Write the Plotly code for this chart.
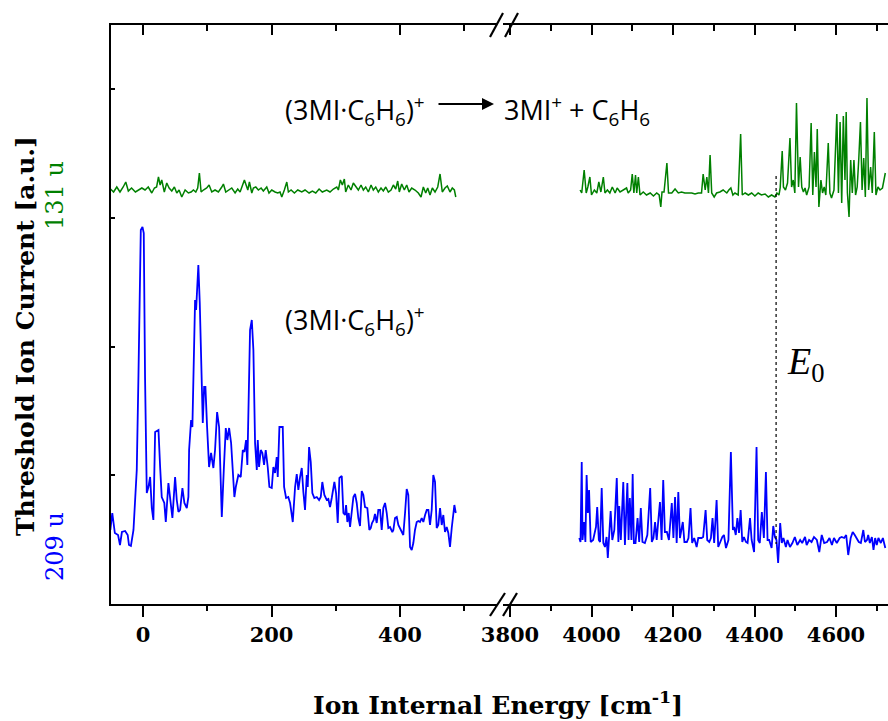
import plotly.graph_objects as go

# ---------------- data (Ion Internal Energy [cm^-1], Threshold ion current [a.u.]) ----------------
blue_left_E = [-51, -48, -44, -39, -36, -33, -28, -24, -22, -19, -15, -12.4, -9.9, -7.3, -3.6, -1, 1, 3, 5.7, 8.3,
               10.9, 13.5, 16, 18.7, 23.9, 26.5, 29, 33, 35.3, 39.4, 42, 45.6, 49.8, 52.4, 55, 57.6, 61.2, 64.3, 68, 70.5,
               71.6, 74.7, 76.7, 78.9, 80.9, 82.5, 84, 86, 88.2, 90.3, 92.9, 95, 97, 99.6, 102.7, 105.8, 109.4, 112, 115.2, 118.3,
               122.5, 125.6, 128.7, 131.2, 133.9, 137, 140, 142.1, 144.3, 148.3, 152, 155.2, 157.7, 160.3, 162.3, 163.9, 166.5, 169.2, 171.7, 174.3,
               177, 178.5, 180.5, 183.2, 185.7, 188.3, 190.9, 194, 196.6, 200.3, 202.8, 205.4, 208, 209.6, 212.2, 215.9, 217.4, 219.5, 222.6, 226,
               228.8, 233, 236.6, 239.2, 241.7, 244.4, 247, 249.5, 252.1, 254.8, 256.3, 258.4, 261, 263.5, 266.6, 270.4, 274, 276.6, 279, 282.2,
               285.9, 288.4, 291, 293.7, 297.8, 300.4, 303, 305.6, 309.3, 311.8, 314.4, 316, 318, 320.1, 322.2, 324.8, 327.4, 330, 332.6, 335.1,
               337.7, 340.4, 342.9, 345.5, 349.1, 352.2, 354.4, 356.4, 359, 361, 363.7, 366.2, 368.9, 371.5, 374, 376.7, 379.3, 381.8, 384.4, 388,
               389.6, 392.2, 394.9, 397.4, 400, 402.6, 405.1, 407.8, 410.4, 412.9, 415.6, 418.2, 420.7, 423.3, 426, 428.5, 431.1, 433.8, 436.3, 439,
               441.6, 444.1, 446.7, 449.3, 451.8, 454.5, 457.1, 459.6, 462.3, 464.9, 467.4, 470, 472.7, 475.2, 477.8, 480.5, 483, 484.6, 486.8]
blue_left_I = [74, 91, 71, 69, 59, 72, 73, 69, 59, 58, 74, 111, 134, 227, 374, 377, 371, 227, 111, 117,
               127, 96, 84, 172, 174, 137, 107, 101, 82, 121, 104, 86, 127, 104, 92, 94, 116, 101, 96, 107,
               154, 184, 177, 237, 304, 294, 311, 339, 301, 247, 181, 217, 217, 177, 137, 151, 136, 154, 192, 177,
               87, 134, 176, 164, 176, 161, 121, 107, 117, 129, 127, 154, 152, 164, 139, 207, 274, 284, 254, 161,
               134, 164, 137, 154, 151, 139, 154, 137, 117, 116, 137, 131, 147, 127, 177, 177, 177, 117, 106, 107,
               101, 82, 117, 130, 114, 127, 136, 112, 94, 129, 117, 157, 142, 111, 106, 107, 104, 107, 122, 109,
               104, 105, 97, 106, 122, 111, 81, 126, 128, 91, 89, 99, 82, 91, 77, 92, 107, 110, 101, 86,
               78, 113, 109, 97, 96, 74, 76, 81, 84, 90, 81, 94, 94, 74, 96, 101, 91, 76, 77, 72,
               74, 86, 87, 79, 76, 72, 69, 91, 115, 109, 57, 54, 61, 74, 82, 83, 82, 86, 82, 89,
               94, 94, 79, 94, 129, 122, 76, 79, 96, 79, 89, 72, 77, 71, 57, 76, 89, 99, 91]

blue_right_E = [3970, 3973, 3976, 3978, 3982, 3985, 3988, 3991, 3994, 3998, 4004, 4011, 4014, 4018, 4021, 4025, 4029, 4033, 4037, 4040,
                4043, 4047, 4051, 4056, 4062, 4066, 4068, 4072, 4078, 4082, 4088, 4091, 4094, 4098, 4101, 4104, 4108, 4113, 4117, 4121,
                4125, 4131, 4137, 4144, 4148, 4152, 4156, 4160, 4164, 4168, 4172, 4176, 4180, 4185, 4190, 4197, 4201, 4205, 4209, 4213,
                4217, 4224, 4228, 4234, 4238, 4243, 4247, 4252, 4258, 4262, 4270, 4274, 4280, 4284, 4289, 4293, 4297, 4301, 4307, 4311,
                4315, 4321, 4325, 4330, 4336, 4342, 4347, 4350, 4354, 4358, 4362, 4366, 4370, 4374, 4379, 4383, 4389, 4393, 4399, 4405,
                4409, 4413, 4418, 4423, 4428, 4432, 4436, 4442, 4446, 4450, 4454, 4458, 4463, 4467, 4471, 4477, 4481, 4487, 4493, 4499,
                4505, 4512, 4517, 4524, 4528, 4534, 4540, 4546, 4553, 4559, 4565, 4571, 4578, 4584, 4590, 4595, 4602, 4609, 4614, 4620,
                4625, 4630, 4636, 4641, 4646, 4651, 4656, 4661, 4667, 4671, 4676, 4679, 4683, 4688, 4692, 4696, 4700, 4704, 4710, 4715, 4721]
blue_right_I = [66, 62, 142, 64, 82, 62, 129, 91, 114, 62, 64, 77, 97, 64, 62, 116, 61, 57, 67, 46,
                66, 93, 64, 74, 126, 62, 98, 64, 122, 59, 121, 64, 106, 64, 130, 61, 61, 86, 62, 96,
                62, 61, 69, 116, 62, 66, 82, 64, 84, 102, 64, 124, 72, 72, 64, 101, 66, 107, 61, 112,
                66, 82, 62, 62, 66, 96, 61, 66, 57, 66, 66, 67, 94, 64, 62, 66, 86, 61, 104, 57,
                61, 67, 69, 56, 64, 152, 74, 77, 69, 86, 71, 94, 62, 67, 62, 61, 86, 64, 52, 157,
                64, 61, 92, 66, 132, 64, 64, 56, 78, 67, 64, 41, 81, 61, 66, 57, 64, 57, 61, 67,
                59, 64, 61, 67, 59, 64, 62, 67, 64, 52, 69, 61, 62, 66, 59, 66, 61, 66, 67, 66,
                69, 49, 66, 72, 69, 66, 62, 61, 74, 62, 64, 69, 61, 67, 54, 66, 59, 66, 61, 66, 56]

green_left_E = [-51, -46, -41, -36, -31, -27, -23, -18, -12, -7, -2, 3, 8, 13.5, 17.6, 21, 23.9, 26.5, 29, 33,
                36.8, 40.5, 44.6, 48.7, 52.4, 56, 60.2, 65.4, 70.5, 74.7, 78.3, 82, 85, 87.6, 90.3, 93.8, 99, 102.7, 106.9, 112,
                117.2, 122.5, 125, 128.7, 132.8, 138, 143.2, 147.3, 151, 154.6, 157.7, 159.8, 163, 165.5, 169.2, 171.7, 175.4, 179.5, 183.7, 187.2,
                192.5, 196, 200.3, 205.4, 209.6, 213.2, 215.9, 219.9, 223.7, 226.2, 230.4, 235.5, 240.8, 247, 252.1, 258.4, 263.5, 268.8, 274, 279,
                285.9, 291, 296.2, 301.5, 304, 307.1, 310.2, 313.3, 315.4, 319.5, 323.7, 327.3, 331, 335.1, 339.3, 342.9, 346.6, 350.7, 354.9, 358.4,
                362.2, 366.2, 370.4, 374, 377.8, 381.8, 386, 389.6, 393.3, 396.4, 398.9, 402.6, 406.7, 410.4, 414, 418.2, 423.3, 428.5, 432.7, 436.3,
                440, 443.1, 446.7, 450.3, 454.5, 458.7, 462.3, 465.8, 470, 473.6, 477.8, 481.4, 484.6, 486.8]
green_left_I = [415, 412, 417, 412, 417, 422, 413, 416, 412, 414, 416, 414, 417, 411, 416, 417, 427, 419, 424, 412,
                421, 416, 413, 417, 411, 414, 407, 414, 411, 412, 414, 412, 416, 431, 412, 414, 416, 419, 412, 414,
                412, 417, 420, 412, 414, 416, 411, 415, 412, 419, 424, 420, 414, 422, 411, 416, 417, 414, 416, 413,
                417, 411, 414, 412, 411, 412, 407, 414, 422, 412, 414, 411, 414, 412, 414, 411, 413, 411, 415, 412,
                414, 412, 415, 417, 414, 424, 419, 425, 412, 419, 414, 421, 417, 414, 419, 414, 417, 412, 419, 414,
                417, 412, 416, 413, 417, 412, 414, 419, 415, 423, 412, 420, 414, 419, 412, 416, 414, 411, 407, 417,
                411, 416, 409, 416, 412, 417, 430, 412, 416, 418, 412, 416, 414, 407]

green_right_E = [3972, 3976, 3982, 3987, 3991, 3996, 4000, 4007, 4013, 4018, 4023, 4029, 4033, 4039, 4045, 4051, 4058, 4063, 4070, 4078,
                 4086, 4090, 4096, 4100, 4104, 4108, 4111, 4115, 4119, 4127, 4135, 4144, 4152, 4160, 4166, 4170, 4173, 4178, 4185, 4189,
                 4197, 4205, 4213, 4221, 4229, 4238, 4246, 4254, 4262, 4270, 4274, 4279, 4283, 4287, 4291, 4295, 4301, 4307, 4315, 4323,
                 4332, 4337, 4342, 4347, 4352, 4360, 4366, 4370, 4377, 4385, 4393, 4401, 4409, 4417, 4426, 4434, 4442, 4450, 4455, 4460,
                 4463, 4468, 4471, 4476, 4481, 4487, 4491, 4495, 4499, 4503, 4508, 4512, 4516, 4520, 4524, 4528, 4534, 4539, 4543, 4547,
                 4551, 4554, 4558, 4563, 4567, 4571, 4575, 4581, 4585, 4589, 4595, 4602, 4606, 4610, 4614, 4618, 4622, 4625, 4628, 4632,
                 4636, 4640, 4644, 4648, 4652, 4656, 4660, 4664, 4668, 4672, 4676, 4680, 4685, 4689, 4694, 4698, 4703, 4708, 4714, 4721]
green_right_I = [414, 411, 434, 411, 417, 427, 409, 414, 411, 422, 412, 427, 411, 414, 411, 417, 411, 416, 412, 414,
                 416, 411, 414, 430, 411, 429, 411, 427, 409, 412, 409, 411, 408, 411, 409, 397, 412, 412, 441, 411,
                 411, 415, 411, 412, 411, 411, 411, 410, 411, 411, 430, 414, 427, 411, 449, 411, 407, 411, 412, 414,
                 411, 414, 416, 409, 411, 409, 470, 409, 411, 409, 411, 408, 411, 409, 410, 407, 409, 407, 411, 409,
                 416, 453, 417, 414, 421, 466, 417, 424, 411, 501, 417, 447, 417, 412, 416, 409, 417, 481, 409, 452,
                 417, 475, 397, 424, 411, 417, 409, 461, 411, 406, 414, 490, 411, 482, 401, 488, 424, 492, 411, 387,
                 444, 411, 444, 409, 417, 446, 482, 414, 446, 407, 506, 414, 437, 411, 472, 409, 417, 414, 416, 431]

E0 = 4453                       # dissociation threshold
E0_span = [428, 60]             # vertical extent of the E0 marker line
x_left_range = [-50, 551]
x_right_range = [3782.8, 4727.6]
y_range = [0, 579]
y_ticks = [129, 257, 386, 515]

BLUE = "#0000ff"
GREEN = "#008000"
SERIF = "DejaVu Serif"
SANS = "Open Sans"

fig = go.Figure()
fig.add_trace(go.Scatter(x=blue_left_E, y=blue_left_I, mode="lines", line=dict(color=BLUE, width=1.8),
                         xaxis="x", yaxis="y", showlegend=False))
fig.add_trace(go.Scatter(x=green_left_E, y=green_left_I, mode="lines", line=dict(color=GREEN, width=1.5),
                         xaxis="x", yaxis="y", showlegend=False))
fig.add_trace(go.Scatter(x=blue_right_E, y=blue_right_I, mode="lines", line=dict(color=BLUE, width=1.8),
                         xaxis="x2", yaxis="y", showlegend=False))
fig.add_trace(go.Scatter(x=green_right_E, y=green_right_I, mode="lines", line=dict(color=GREEN, width=1.5),
                         xaxis="x2", yaxis="y", showlegend=False))

d_left = [0, 0.4968]
d_right = [0.5045, 1]
tickfont = dict(family=SERIF, size=21, color="black", weight="bold")
common_bottom = dict(showline=True, linewidth=2, linecolor="black", ticks="outside", ticklen=11, tickwidth=2,
                     tickcolor="black", showgrid=False, zeroline=False, tickfont=tickfont, anchor="y")
common_top = dict(showline=True, linewidth=2, linecolor="black", ticks="inside", ticklen=10, tickwidth=2,
                  tickcolor="black", showgrid=False, zeroline=False, showticklabels=False, side="top", anchor="y")

fig.update_layout(
    width=888, height=721,
    margin=dict(l=111, r=0, t=25, b=117),
    paper_bgcolor="white", plot_bgcolor="white",
    xaxis=dict(domain=d_left, range=x_left_range, tickmode="linear", tick0=0, dtick=200,
               minor=dict(ticks="outside", ticklen=5, tickwidth=2, tickcolor="black", dtick=100, tick0=0, showgrid=False),
               **common_bottom),
    xaxis2=dict(domain=d_right, range=x_right_range, tickmode="linear", tick0=3800, dtick=200,
                minor=dict(ticks="outside", ticklen=5, tickwidth=2, tickcolor="black", dtick=100, tick0=3800, showgrid=False),
                **common_bottom),
    xaxis3=dict(overlaying="x", range=x_left_range, tickmode="linear", tick0=0, dtick=200,
                minor=dict(ticks="inside", ticklen=6, tickwidth=2, tickcolor="black", dtick=100, tick0=0, showgrid=False),
                **common_top),
    xaxis4=dict(overlaying="x2", range=x_right_range, tickmode="linear", tick0=3800, dtick=200,
                minor=dict(ticks="inside", ticklen=6, tickwidth=2, tickcolor="black", dtick=100, tick0=3800, showgrid=False),
                **common_top),
    yaxis=dict(range=y_range, tickvals=y_ticks, showticklabels=False, ticks="inside", ticklen=4, tickwidth=2,
               tickcolor="black", showline=True, linewidth=2, linecolor="black", showgrid=False, zeroline=False,
               anchor="x"),
)
# invisible traces so the top axes are rendered
fig.add_trace(go.Scatter(x=[x_left_range[0]], y=[y_range[0]], xaxis="x3", yaxis="y", mode="markers",
                         marker=dict(opacity=0), showlegend=False, hoverinfo="skip"))
fig.add_trace(go.Scatter(x=[x_right_range[0]], y=[y_range[0]], xaxis="x4", yaxis="y", mode="markers",
                         marker=dict(opacity=0), showlegend=False, hoverinfo="skip"))

# axis-break marks (bottom and top)
def px2paper_x(px):
    return (px - 111) / 777.0

def px2paper_y(py):
    return (604 - py) / 579.0

for (x0, y0, x1, y1) in [(490, 616, 505, 593), (503, 616, 517, 593), (490, 37, 503, 13), (505, 37, 518, 13)]:
    fig.add_shape(type="line", xref="paper", yref="paper",
                  x0=px2paper_x(x0), y0=px2paper_y(y0), x1=px2paper_x(x1), y1=px2paper_y(y1),
                  line=dict(color="black", width=2.2))

# E0 marker line
fig.add_shape(type="line", xref="x2", yref="y", x0=E0, x1=E0, y0=E0_span[0], y1=E0_span[1],
              line=dict(color="black", width=1.2, dash="dot"))
fig.add_annotation(xref="x2", yref="y", x=4527, y=240, xanchor="center", yanchor="middle",
                   text="<i>E</i><sub>0</sub>", showarrow=False,
                   font=dict(family="Liberation Serif", size=38, color="black"))

# chemistry labels
fig.add_annotation(xref="paper", yref="paper", x=px2paper_x(283), y=px2paper_y(110), xanchor="left", yanchor="middle",
                   text="(3MI·C<sub>6</sub>H<sub>6</sub>)<sup>+</sup>", showarrow=False,
                   font=dict(family=SANS, size=27, color="black"))
fig.add_annotation(xref="paper", yref="paper", x=px2paper_x(502), y=px2paper_y(110), xanchor="left", yanchor="middle",
                   text="3MI<sup>+</sup> + C<sub>6</sub>H<sub>6</sub>", showarrow=False,
                   font=dict(family=SANS, size=27, color="black"))
fig.add_annotation(xref="paper", yref="paper", x=px2paper_x(494), y=px2paper_y(104),
                   ax=-57, ay=0, axref="pixel", ayref="pixel",
                   text="", showarrow=True, arrowhead=2, arrowsize=1.2, arrowwidth=2, arrowcolor="black")
fig.add_annotation(xref="paper", yref="paper", x=px2paper_x(283), y=px2paper_y(320), xanchor="left", yanchor="middle",
                   text="(3MI·C<sub>6</sub>H<sub>6</sub>)<sup>+</sup>", showarrow=False,
                   font=dict(family=SANS, size=27, color="black"))

# axis titles
fig.add_annotation(xref="paper", yref="paper", x=px2paper_x(498), y=px2paper_y(703), xanchor="center", yanchor="middle",
                   text="<b>Ion Internal Energy [cm<sup>-1</sup>]</b>", showarrow=False,
                   font=dict(family=SERIF, size=25, color="black"))
fig.add_annotation(xref="paper", yref="paper", x=px2paper_x(25), y=px2paper_y(336), xanchor="center", yanchor="middle",
                   textangle=-90, text="<b>Threshold Ion Current [a.u.]</b>", showarrow=False,
                   font=dict(family=SERIF, size=25, color="black"))
fig.add_annotation(xref="paper", yref="paper", x=px2paper_x(55), y=px2paper_y(196), xanchor="center", yanchor="middle",
                   textangle=-90, text="131 u", showarrow=False, font=dict(family=SERIF, size=24, color=GREEN))
fig.add_annotation(xref="paper", yref="paper", x=px2paper_x(55), y=px2paper_y(547), xanchor="center", yanchor="middle",
                   textangle=-90, text="209 u", showarrow=False, font=dict(family=SERIF, size=24, color=BLUE))

fig.write_html("out.html")
